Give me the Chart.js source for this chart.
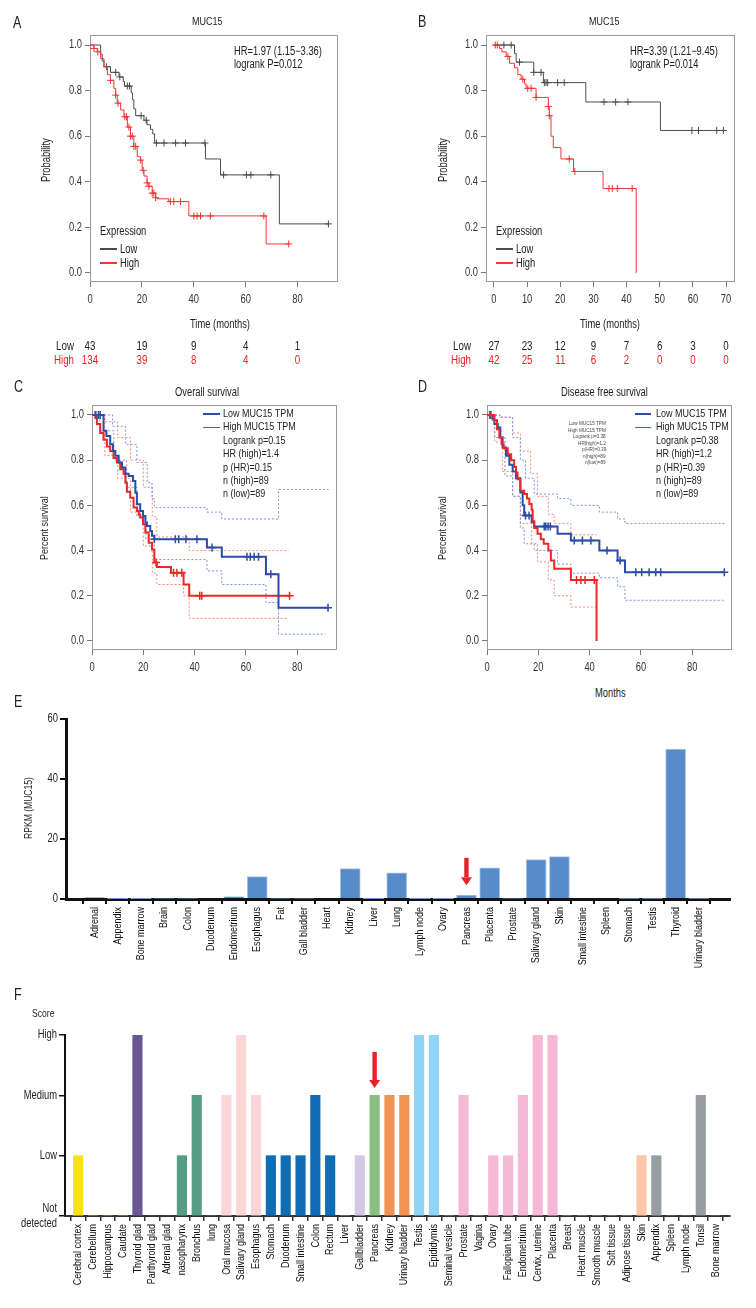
<!DOCTYPE html>
<html>
<head>
<meta charset="utf-8">
<script src="https://cdn.jsdelivr.net/npm/chart.js@4.4.1/dist/chart.umd.min.js"></script>
<style>
  body { margin: 0; background: #fff; }
  #page { position: relative; width: 756px; height: 1308px; overflow: hidden; }
  #page canvas { position: absolute; }
  .t { position: absolute; white-space: nowrap; line-height: 1; font-family: 'Liberation Sans', Arial, sans-serif; transform-origin: 0 0; }
  .ln { position: absolute; height: 1.5px; }
</style>
</head>
<body>
<div id="page"></div>
<script>
const FONT = "'Liberation Sans', Arial, sans-serif"
const K = 0.78   // horizontal squeeze, the source figure uses a condensed face

// ---- panel A (KM, months) ----
const aLowT = [0, 4.1, 4.7, 5.4, 7.9, 11.2, 12.8, 13.3, 15.9, 16.4, 16.9, 17.6, 20.8, 22.0, 23.3, 24.2, 24.9, 44.5, 50.3, 73.0, 92.0]
const aLowS = [1, 0.96, 0.93, 0.905, 0.88, 0.86, 0.84, 0.82, 0.79, 0.76, 0.72, 0.69, 0.67, 0.65, 0.63, 0.61, 0.57, 0.50, 0.43, 0.215, 0.215]
const aLowCens = [6.4, 9.9, 11.5, 14.4, 15.2, 19.7, 21.7, 25.6, 28.5, 33.0, 36.8, 44.3, 51.5, 60.3, 62.0, 69.7, 91.9]
const aHighT = [0, 1.5, 2.8, 4.1, 5.4, 6.7, 7.9, 9.2, 9.9, 10.5, 11.8, 13.1, 14.4, 15.6, 16.9, 18.2, 19.5, 20.1, 20.8, 22.0, 22.7, 24.0, 25.3, 25.9, 30.4, 38.1, 67.9, 76.9]
const aHighS = [1, 0.985, 0.97, 0.94, 0.905, 0.87, 0.845, 0.81, 0.78, 0.745, 0.715, 0.685, 0.64, 0.60, 0.555, 0.51, 0.495, 0.45, 0.425, 0.395, 0.38, 0.35, 0.33, 0.325, 0.313, 0.25, 0.127, 0.127]
const aHighCens = [1.5, 3.0, 7.9, 9.9, 10.8, 13.4, 14.1, 15.0, 15.6, 16.3, 16.9, 17.6, 19.5, 20.5, 22.0, 22.7, 24.0, 24.6, 25.3, 31.0, 32.3, 34.9, 40.0, 41.3, 42.6, 46.4, 67.0, 76.6]
const aRiskTimes = [0, 20, 40, 60, 80]
const aRiskLow = [43, 19, 9, 4, 1]
const aRiskHigh = [134, 39, 8, 4, 0]

// ---- panel B ----
const bLowT = [0, 6.2, 6.7, 12.0, 14.9, 27.7, 50.2, 69.7]
const bLowS = [1, 0.963, 0.925, 0.88, 0.835, 0.75, 0.625, 0.625]
const bLowCens = [3.0, 5.2, 7.7, 12.0, 14.2, 15.2, 15.7, 16.2, 19.2, 21.2, 33.2, 36.7, 40.4, 59.7, 61.7, 67.2, 69.2]
const bHighT = [0, 1.7, 2.4, 3.7, 4.7, 6.2, 7.2, 8.2, 9.2, 9.7, 12.7, 16.4, 16.7, 17.2, 17.9, 20.2, 24.0, 32.9, 42.9]
const bHighS = [1, 0.985, 0.97, 0.95, 0.92, 0.90, 0.87, 0.85, 0.83, 0.81, 0.77, 0.73, 0.69, 0.60, 0.55, 0.50, 0.445, 0.37, 0.0]
const bHighCens = [0.4, 1.0, 4.2, 8.7, 10.2, 11.2, 12.7, 16.4, 16.7, 22.7, 24.4, 34.7, 35.7, 37.2, 41.7]
const bRiskTimes = [0, 10, 20, 30, 40, 50, 60, 70]
const bRiskLow = [27, 23, 12, 9, 7, 6, 3, 0]
const bRiskHigh = [42, 25, 11, 6, 2, 0, 0, 0]

// ---- panel C (overall survival) ----
const cLowT = [0, 4.5, 5.6, 7.1, 8.2, 9.1, 10.4, 11.7, 13.0, 14.3, 16.0, 16.9, 17.5, 18.8, 19.9, 20.8, 21.4, 22.7, 23.4, 24.3, 44.8, 50.6, 67.8, 72.7, 92.2]
const cLowS = [1, 0.93, 0.907, 0.87, 0.84, 0.82, 0.79, 0.767, 0.74, 0.73, 0.708, 0.656, 0.605, 0.575, 0.553, 0.524, 0.509, 0.487, 0.465, 0.45, 0.413, 0.373, 0.295, 0.147, 0.147]
const cLowCens = [1.5, 2.5, 3.2, 24.3, 32.5, 33.8, 36.6, 40.9, 46.8, 60.4, 61.7, 63.2, 64.9, 69.7, 92.0]
const cHighT = [0, 1.9, 3.2, 4.5, 5.8, 7.1, 8.4, 9.7, 11.0, 12.3, 13.0, 13.6, 14.9, 16.2, 17.5, 18.2, 18.8, 19.9, 20.8, 22.1, 23.4, 24.3, 25.3, 30.8, 35.7, 37.9, 77.3]
const cHighS = [1, 0.96, 0.92, 0.89, 0.86, 0.84, 0.81, 0.79, 0.76, 0.74, 0.70, 0.66, 0.634, 0.59, 0.575, 0.56, 0.546, 0.516, 0.48, 0.435, 0.405, 0.347, 0.327, 0.302, 0.25, 0.20, 0.20]
const cHighCens = [1.2, 25.0, 31.8, 33.1, 35.0, 42.0, 42.8, 77.0]
const cLowUpT = [0, 4.5, 8, 13, 17.5, 21.5, 23.4, 24.3, 44.8, 50.6, 72.7, 92.2]
const cLowUpS = [1, 1, 0.95, 0.87, 0.79, 0.70, 0.63, 0.59, 0.57, 0.54, 0.67, 0.67]
const cLowLoT = [0, 3, 8.5, 13.5, 17.5, 21, 24.3, 44.8, 50.6, 67.8, 72.7, 91]
const cLowLoS = [1, 0.93, 0.80, 0.68, 0.55, 0.45, 0.36, 0.31, 0.25, 0.17, 0.03, 0.03]
const cHighUpT = [0, 5, 10, 15, 20, 23.5, 25.3, 35.7, 37.9, 76.7]
const cHighUpS = [1, 0.97, 0.90, 0.80, 0.68, 0.55, 0.46, 0.46, 0.40, 0.40]
const cHighLoT = [0, 5, 10, 15, 20, 23.5, 25.3, 35.7, 37.9, 76.7]
const cHighLoS = [1, 0.82, 0.72, 0.57, 0.42, 0.30, 0.25, 0.20, 0.10, 0.10]

// ---- panel D (disease free survival) ----
const dLowT = [0, 2.2, 2.9, 4.2, 5.2, 6.1, 7.4, 8.7, 10.0, 11.3, 13.0, 13.9, 14.5, 17.4, 18.4, 27.5, 32.7, 43.8, 50.9, 53.8, 92.5]
const dLowS = [1, 0.98, 0.96, 0.944, 0.90, 0.856, 0.82, 0.78, 0.75, 0.72, 0.657, 0.60, 0.555, 0.525, 0.506, 0.474, 0.444, 0.40, 0.356, 0.304, 0.304]
const dLowCens = [1.5, 15.0, 16.4, 22.3, 22.9, 23.8, 24.7, 34.0, 37.2, 40.5, 46.8, 51.9, 58.0, 60.3, 63.2, 65.8, 67.7, 92.5]
const dHighT = [0, 2.9, 3.9, 4.8, 5.7, 6.5, 8.1, 9.4, 10.6, 11.3, 11.9, 13.0, 14.5, 15.6, 16.5, 17.4, 17.8, 18.4, 19.7, 21.0, 22.1, 23.9, 24.9, 26.2, 32.7, 42.7]
const dHighS = [1, 0.976, 0.937, 0.90, 0.87, 0.853, 0.826, 0.80, 0.77, 0.745, 0.716, 0.665, 0.65, 0.63, 0.606, 0.58, 0.53, 0.50, 0.474, 0.45, 0.43, 0.40, 0.356, 0.32, 0.27, 0.0]
const dHighCens = [1.0, 34.9, 36.6, 38.2, 41.8]
const dLowUpT = [0, 5, 10, 13, 15, 18.4, 27.5, 32.7, 43.8, 50.9, 53.8, 92.5]
const dLowUpS = [1, 0.99, 0.90, 0.80, 0.72, 0.65, 0.63, 0.60, 0.57, 0.54, 0.52, 0.52]
const dLowLoT = [0, 3, 7, 10, 13, 14.5, 18.4, 27.5, 32.7, 43.8, 50.9, 53.8, 92.5]
const dLowLoS = [1, 0.90, 0.73, 0.64, 0.50, 0.43, 0.40, 0.34, 0.30, 0.28, 0.24, 0.18, 0.18]
const dHighUpT = [0, 5, 10, 13, 17, 19.7, 23.9, 26.2, 32.7, 42.7]
const dHighUpS = [1, 0.99, 0.92, 0.84, 0.74, 0.64, 0.56, 0.52, 0.47, 0.47]
const dHighLoT = [0, 3, 6, 10, 13, 17.4, 19.7, 23.9, 26.2, 32.7, 42.7]
const dHighLoS = [1, 0.88, 0.75, 0.64, 0.52, 0.43, 0.35, 0.27, 0.20, 0.15, 0.15]

// ---- panel E (RPKM by tissue) ----
const eTissues = ['Adrenal', 'Appendix', 'Bone marrow', 'Brain', 'Colon', 'Duodenum', 'Endometrium', 'Esophagus', 'Fat', 'Gall bladder', 'Heart', 'Kidney', 'Liver', 'Lung', 'Lymph node', 'Ovary', 'Pancreas', 'Placenta', 'Prostate', 'Salivary gland', 'Skin', 'Small intestine', 'Spleen', 'Stomach', 'Testis', 'Thyroid', 'Urinary bladder']
const eRpkm = [0.5, 0.1, 0.1, 0.3, 0.3, 0, 0.8, 7.5, 0.3, 0.3, 0, 10.1, 0.1, 8.7, 0.1, 0.1, 1.3, 10.4, 0.3, 13.1, 14.1, 0, 0, 0.2, 0.2, 50, 0.2]
const eTicks = [0, 20, 40, 60]

// ---- panel F (protein score) ----
const fTissues = ['Cerebral cortex', 'Cerebellum', 'Hippocampus', 'Caudate', 'Thyroid glad', 'Parthyroid glad', 'Adrenal glad', 'nasopharynx', 'Bronchus', 'lung', 'Oral mucosa', 'Salivary gland', 'Esophagus', 'Stomach', 'Duodenum', 'Small intestine', 'Colon', 'Rectum', 'Liver', 'Gallbladder', 'Pancreas', 'Kidney', 'Urinary bladder', 'Testis', 'Epididymis', 'Seminal vesicle', 'Prostate', 'Vagina', 'Ovary', 'Fallopian tube', 'Endometrium', 'Cervix, uterine', 'Placenta', 'Breast', 'Heart muscle', 'Smooth muscle', 'Soft tissue', 'Adipose tissue', 'Skin', 'Appendix', 'Spleen', 'Lymph node', 'Tonsil', 'Bone marrow']
const fScore = [1, 0, 0, 0, 3, 0, 0, 1, 2, 0, 2, 3, 2, 1, 1, 1, 2, 1, 0, 1, 2, 2, 2, 3, 3, 0, 2, 0, 1, 1, 2, 3, 3, 0, 0, 0, 0, 0, 1, 1, 0, 0, 2, 0]
const fLevels = [['Not', 'detected'], 'Low', 'Medium', 'High']

// bar colours for F, one per tissue group
const fColors = ['#f7e11c', '#f7e11c', '#f7e11c', '#f7e11c', '#6b5695', '#6b5695', '#6b5695', '#559d84', '#559d84', '#559d84',
  '#fbd6d6', '#fbd6d6', '#fbd6d6', '#0f6db6', '#0f6db6', '#0f6db6', '#0f6db6', '#0f6db6', '#d3c9e4', '#d3c9e4', '#88bf7c',
  '#f29352', '#f29352', '#8fd3f5', '#8fd3f5', '#8fd3f5', '#f5b8d5', '#f5b8d5', '#f5b8d5', '#f5b8d5', '#f5b8d5', '#f5b8d5', '#f5b8d5', '#f5b8d5',
  '#ccc', '#ccc', '#ccc', '#ccc', '#fbc7a8', '#979ea2', '#979ea2', '#979ea2', '#979ea2', '#979ea2']

// squeeze all canvas text so it looks condensed like the original
const baseFillText = CanvasRenderingContext2D.prototype.fillText
CanvasRenderingContext2D.prototype.fillText = function(str, x, y){
    this.save()
    this.translate(x, y)
    this.scale(K, 1)
    baseFillText.call(this, str, 0, 0)
    this.restore()
}

const page = document.getElementById('page')

function addCanvas(left, top, w, h){
    const c = document.createElement('canvas')
    c.width = w
    c.height = h
    c.style.left = left + 'px'
    c.style.top = top + 'px'
    c.style.width = w + 'px'
    c.style.height = h + 'px'
    page.appendChild(c)
    return c
}

function text(str, x, y, size, opt = {}){
    const d = document.createElement('div')
    d.className = 't'
    d.textContent = str
    d.style.fontSize = size + 'px'
    d.style.color = opt.color || '#222'
    page.appendChild(d)
    const w = d.offsetWidth * K, h = d.offsetHeight
    const shift = opt.align === 'center' ? w / 2 : opt.align === 'right' ? w : 0
    if(opt.rotate){
        d.style.left = (x - h / 2) + 'px'
        d.style.top = (y + shift) + 'px'
        d.style.transform = `rotate(-90deg) scaleX(${K})`
    } else {
        d.style.left = (x - shift) + 'px'
        d.style.top = (y - h / 2) + 'px'
        d.style.transform = `scaleX(${K})`
    }
}

function line(x1, x2, y, color){
    const d = document.createElement('div')
    d.className = 'ln'
    d.style.left = x1 + 'px'
    d.style.width = (x2 - x1) + 'px'
    d.style.top = (y - 0.75) + 'px'
    d.style.background = color
    page.appendChild(d)
}

function levelAt(T, S, t){
    let v = S[0]
    for(let i = 0; i < T.length; i++){
        if(T[i] <= t) v = S[i]
    }
    return v
}

// box around the plot area
const framePlugin = {
    id: 'frame',
    beforeDatasetsDraw(chart, args, o){
        if(!o.color) return
        const a = chart.chartArea, ctx = chart.ctx
        ctx.save()
        ctx.strokeStyle = o.color
        ctx.lineWidth = 1
        ctx.strokeRect(Math.round(a.left) + 0.5, Math.round(a.top) + 0.5, Math.round(a.right - a.left) - 1, Math.round(a.bottom - a.top) - 1)
        ctx.restore()
    }
}

// numbers at risk under the x axis
const riskPlugin = {
    id: 'risk',
    afterDraw(chart, args, o){
        if(!o.rows) return
        const ctx = chart.ctx, x = chart.scales.x
        ctx.save()
        ctx.font = `12.5px ${FONT}`
        ctx.textBaseline = 'middle'
        o.rows.forEach(r => {
            ctx.fillStyle = r.color
            ctx.textAlign = 'right'
            ctx.fillText(r.label, o.labelX, r.y)
            ctx.textAlign = 'center'
            o.times.forEach((t, i) => ctx.fillText(String(r.values[i]), x.getPixelForValue(t), r.y))
        })
        ctx.restore()
    }
}

// red arrow pointing at a bar
const arrowPlugin = {
    id: 'arrow',
    afterDatasetsDraw(chart, args, o){
        if(o.index === undefined) return
        const ctx = chart.ctx
        const x = chart.scales.x.getPixelForValue(o.index)
        const y1 = chart.scales.y.getPixelForValue(o.from)
        const y2 = chart.scales.y.getPixelForValue(o.to)
        const head = 8
        ctx.save()
        ctx.fillStyle = '#e4232a'
        ctx.fillRect(x - 2.2, y1, 4.4, y2 - y1 - head)
        ctx.beginPath()
        ctx.moveTo(x - 5.5, y2 - head)
        ctx.lineTo(x + 5.5, y2 - head)
        ctx.lineTo(x, y2)
        ctx.closePath()
        ctx.fill()
        ctx.restore()
    }
}

function kmChart(canvas, cfg){
    const datasets = []
    cfg.curves.forEach(c => {
        datasets.push({
            data: c.T.map((t, i) => ({x: t, y: c.S[i]})),
            showLine: true, stepped: true, borderColor: c.color, borderWidth: c.width,
            pointRadius: 0, fill: false
        })
        datasets.push({
            data: c.C.map(t => ({x: t, y: levelAt(c.T, c.S, t)})),
            showLine: false, pointStyle: 'cross', pointRadius: c.mark, borderColor: c.color,
            pointBorderWidth: c.width > 1.5 ? 1.5 : 1, backgroundColor: c.color
        })
    })
    ;(cfg.bands || []).forEach(b => {
        datasets.push({
            data: b.T.map((t, i) => ({x: t, y: b.S[i]})),
            showLine: true, stepped: true, borderColor: b.color, borderWidth: 1,
            borderDash: [2, 2], pointRadius: 0, fill: false
        })
    })
    const tickFont = {family: FONT, size: 12}
    return new Chart(canvas, {
        type: 'scatter',
        data: {datasets},
        options: {
            animation: false, responsive: false, devicePixelRatio: 1,
            layout: {padding: {top: cfg.padTop, right: cfg.padRight, left: 0, bottom: 0}},
            plugins: {
                legend: {display: false}, tooltip: {enabled: false},
                frame: {color: '#9a9a9a'},
                risk: cfg.risk || {}
            },
            scales: {
                x: {
                    type: 'linear', min: cfg.xMin, max: cfg.xMax,
                    afterFit: s => { s.height = cfg.xH },
                    border: {display: false},
                    grid: {drawOnChartArea: false, drawTicks: true, tickLength: 5, color: '#777'},
                    ticks: {stepSize: cfg.xStep, includeBounds: false, font: tickFont, color: '#333', padding: 5, maxRotation: 0}
                },
                y: {
                    type: 'linear', min: -0.04, max: 1.044,
                    afterFit: s => { s.width = cfg.yW },
                    border: {display: false},
                    grid: {drawOnChartArea: false, drawTicks: true, tickLength: 5, color: '#777'},
                    ticks: {stepSize: 0.2, includeBounds: false, font: tickFont, color: '#333', padding: 3,
                        callback: v => v.toFixed(1)}
                }
            }
        },
        plugins: [framePlugin, riskPlugin]
    })
}

// ---------- A ----------
kmChart(addCanvas(0, 0, 378, 370), {
    padTop: 35, padRight: 40, yW: 90, xH: 88, xMin: 0, xMax: 95.6, xStep: 20,
    curves: [
        {T: aHighT, S: aHighS, C: aHighCens, color: '#f23535', width: 1, mark: 3.5},
        {T: aLowT, S: aLowS, C: aLowCens, color: '#4d4d4d', width: 1, mark: 3.5}
    ],
    risk: {labelX: 74, times: aRiskTimes, rows: [
        {label: 'Low', color: '#222', y: 347, values: aRiskLow},
        {label: 'High', color: '#f02020', y: 361, values: aRiskHigh}
    ]}
})
text('A', 13, 23, 16)
text('MUC15', 207, 22, 11.5, {align: 'center'})
text('HR=1.97 (1.15−3.36)', 234, 51, 12)
text('logrank P=0.012', 234, 64, 12)
text('Probability', 46, 160, 12, {align: 'center', rotate: true})
text('Time (months)', 220, 324, 12, {align: 'center'})
text('Expression', 100, 231, 12)
line(100, 117, 249, '#4d4d4d'); text('Low', 120, 249, 12)
line(100, 117, 263, '#f23535'); text('High', 120, 263, 12)

// ---------- B ----------
kmChart(addCanvas(378, 0, 378, 370), {
    padTop: 35, padRight: 21, yW: 108, xH: 88, xMin: -2.4, xMax: 72.7, xStep: 10,
    curves: [
        {T: bHighT, S: bHighS, C: bHighCens, color: '#f23535', width: 1, mark: 3.5},
        {T: bLowT, S: bLowS, C: bLowCens, color: '#4d4d4d', width: 1, mark: 3.5}
    ],
    risk: {labelX: 93, times: bRiskTimes, rows: [
        {label: 'Low', color: '#222', y: 347, values: bRiskLow},
        {label: 'High', color: '#f02020', y: 361, values: bRiskHigh}
    ]}
})
text('B', 418, 22, 16)
text('MUC15', 604, 22, 11.5, {align: 'center'})
text('HR=3.39 (1.21−9.45)', 630, 51, 12)
text('logrank P=0.014', 630, 64, 12)
text('Probability', 443, 160, 12, {align: 'center', rotate: true})
text('Time (months)', 610, 324, 12, {align: 'center'})
text('Expression', 496, 231, 12)
line(496, 513, 249, '#4d4d4d'); text('Low', 516, 249, 12)
line(496, 513, 263, '#f23535'); text('High', 516, 263, 12)

// ---------- C ----------
const BLUE = '#2d4ca5', RED = '#ee2626', BLUE_D = '#7f8fe0', RED_D = '#f58585'
kmChart(addCanvas(0, 380, 378, 300), {
    padTop: 25, padRight: 41, yW: 92, xH: 30, xMin: 0, xMax: 95.5, xStep: 20,
    curves: [
        {T: cLowT, S: cLowS, C: cLowCens, color: BLUE, width: 2, mark: 4},
        {T: cHighT, S: cHighS, C: cHighCens, color: RED, width: 2, mark: 4}
    ],
    bands: [
        {T: cLowUpT, S: cLowUpS, color: BLUE_D}, {T: cLowLoT, S: cLowLoS, color: BLUE_D},
        {T: cHighUpT, S: cHighUpS, color: RED_D}, {T: cHighLoT, S: cHighLoS, color: RED_D}
    ]
})
text('C', 14, 387, 16)
text('Overall survival', 207, 392, 12, {align: 'center'})
text('Percent survival', 45, 528, 11.5, {align: 'center', rotate: true})
const cLegend = ['Low MUC15 TPM', 'High MUC15 TPM', 'Logrank p=0.15', 'HR (high)=1.4', 'p (HR)=0.15', 'n (high)=89', 'n (low)=89']
cLegend.forEach((s, i) => text(s, 223, 414 + i * 13.4, 11.5))
line(203, 220, 414, BLUE)
line(203, 220, 427.4, RED)

// ---------- D ----------
kmChart(addCanvas(378, 380, 378, 300), {
    padTop: 25, padRight: 24, yW: 109, xH: 30, xMin: 0, xMax: 95.5, xStep: 20,
    curves: [
        {T: dHighT, S: dHighS, C: dHighCens, color: RED, width: 2, mark: 4},
        {T: dLowT, S: dLowS, C: dLowCens, color: BLUE, width: 2, mark: 4}
    ],
    bands: [
        {T: dLowUpT, S: dLowUpS, color: BLUE_D}, {T: dLowLoT, S: dLowLoS, color: BLUE_D},
        {T: dHighUpT, S: dHighUpS, color: RED_D}, {T: dHighLoT, S: dHighLoS, color: RED_D}
    ]
})
text('D', 418, 387, 16)
text('Disease free survival', 604, 392, 12, {align: 'center'})
text('Percent survival', 443, 528, 11.5, {align: 'center', rotate: true})
text('Months', 610, 693, 12, {align: 'center'})
const dLegend = ['Low MUC15 TPM', 'High MUC15 TPM', 'Logrank p=0.38', 'HR (high)=1.2', 'p (HR)=0.39', 'n (high)=89', 'n (low)=89']
dLegend.forEach((s, i) => text(s, 656, 414 + i * 13.4, 11.5))
line(635, 651, 414, BLUE)
line(635, 651, 427.4, RED)
const dSmall = ['Low MUC15 TPM', 'High MUC15 TPM', 'Logrank p=0.38', 'HR(high)=1.2', 'p(HR)=0.39', 'n(high)=89', 'n(low)=89']
dSmall.forEach((s, i) => text(s, 606, 423 + i * 6.5, 6, {align: 'right', color: '#444'}))

// ---------- E ----------
new Chart(addCanvas(0, 700, 756, 275), {
    type: 'bar',
    data: {datasets: [{
        data: eTissues.map((t, i) => ({x: i, y: eRpkm[i]})),
        backgroundColor: '#588bc9', borderColor: '#a9c5e8', borderWidth: 1, barThickness: 20
    }]},
    options: {
        animation: false, responsive: false, devicePixelRatio: 1,
        layout: {padding: {top: 19, right: 26, left: 0, bottom: 0}},
        plugins: {legend: {display: false}, tooltip: {enabled: false},
            arrow: {index: eTissues.indexOf('Pancreas'), from: 13.7, to: 4.6}},
        scales: {
            x: {
                type: 'linear', min: -0.70, max: 26.81,
                afterFit: s => { s.height = 76 },
                border: {color: '#111', width: 3},
                grid: {drawOnChartArea: false, drawTicks: true, tickLength: 5, color: '#111', lineWidth: 2},
                ticks: {stepSize: 1, includeBounds: false, autoSkip: false, minRotation: 90, maxRotation: 90,
                    font: {family: FONT, size: 11.5}, color: '#111', padding: 3,
                    callback: v => eTissues[v]}
            },
            y: {
                min: 0, max: 60,
                afterFit: s => { s.width = 66 },
                border: {color: '#111', width: 3},
                grid: {drawOnChartArea: false, drawTicks: true, tickLength: 6, color: '#111', lineWidth: 2},
                ticks: {stepSize: 20, includeBounds: false, font: {family: FONT, size: 12}, color: '#222', padding: 2,
                    callback: v => eTicks.includes(v) ? String(v) : ''}
            }
        }
    },
    plugins: [arrowPlugin]
})
text('E', 14, 702, 16)
text('RPKM (MUC15)', 28, 808, 11, {align: 'center', rotate: true})

// ---------- F ----------
new Chart(addCanvas(0, 1000, 756, 308), {
    type: 'bar',
    data: {datasets: [{
        data: fTissues.map((t, i) => ({x: i, y: fScore[i]})),
        backgroundColor: fColors, barThickness: 9.5
    }]},
    options: {
        animation: false, responsive: false, devicePixelRatio: 1,
        layout: {padding: {top: 35, right: 26, left: 0, bottom: 0}},
        plugins: {legend: {display: false}, tooltip: {enabled: false},
            arrow: {index: fTissues.indexOf('Pancreas'), from: 2.72, to: 2.12}},
        scales: {
            x: {
                type: 'linear', min: -0.376, max: 43.46,
                afterFit: s => { s.height = 92 },
                border: {color: '#333', width: 2},
                grid: {drawOnChartArea: false, drawTicks: true, tickLength: 5, color: '#333', lineWidth: 1.5},
                ticks: {stepSize: 1, includeBounds: false, autoSkip: false, minRotation: 90, maxRotation: 90,
                    font: {family: FONT, size: 11.5}, color: '#111', padding: 3,
                    callback: v => fTissues[v]}
            },
            y: {
                min: 0, max: 3,
                afterFit: s => { s.width = 65 },
                border: {color: '#111', width: 2},
                grid: {drawOnChartArea: false, drawTicks: true, tickLength: 6, color: '#111', lineWidth: 1.5},
                ticks: {stepSize: 1, font: {family: FONT, size: 12}, color: '#222', padding: 2,
                    callback: v => fLevels[v]}
            }
        }
    },
    plugins: [arrowPlugin]
})
text('F', 14, 995, 16)
text('Score', 43, 1013, 11, {align: 'center'})
</script>
</body>
</html>
